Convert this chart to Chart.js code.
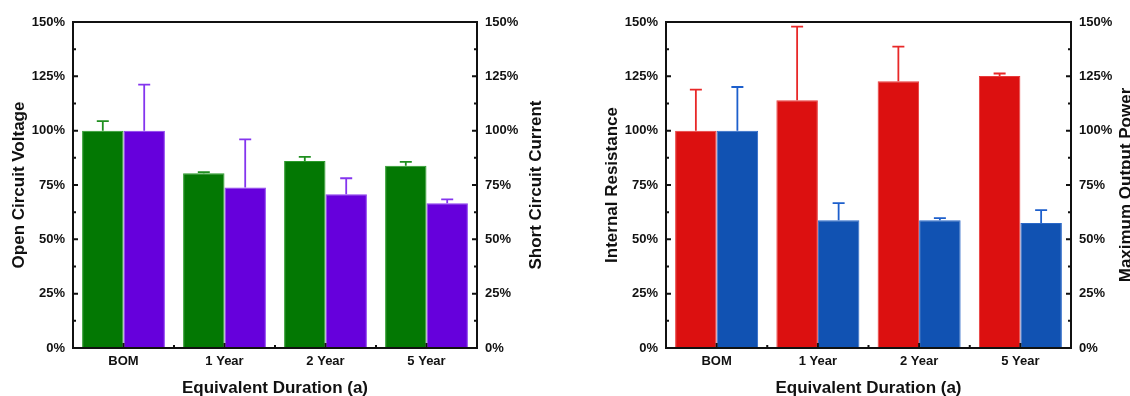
<!DOCTYPE html>
<html>
<head>
<meta charset="utf-8">
<script src="https://cdn.jsdelivr.net/npm/chart.js@4/dist/chart.umd.min.js"></script>
<style>
  body { margin: 0; background: #fff; }
  #wrap { position: relative; width: 1130px; height: 396px; overflow: hidden; }
  canvas { position: absolute; top: 0; }
</style>
</head>
<body>
<div id="wrap">
  <canvas id="leftChart" width="565" height="396" style="left:0"></canvas>
  <canvas id="rightChart" width="565" height="396" style="left:565px"></canvas>
</div>
<script>
// data (% relative to BOM)
const categories = ['BOM', '1 Year', '2 Year', '5 Year'];
const yTicks = [0, 25, 50, 75, 100, 125, 150];

const vocValues = [100, 80.4, 86.1, 83.8];
const vocErr = [4.4, 0.5, 1.8, 1.8];
const iscValues = [100, 73.8, 70.7, 66.6];
const iscErr = [21.2, 22.2, 7.4, 1.8];

const resValues = [100, 114.0, 122.7, 125.2];
const resErr = [18.9, 33.9, 16.0, 1.1];
const powValues = [100, 58.8, 58.8, 57.5];
const powErr = [20.1, 7.9, 1.0, 5.9];

const fontFamily = '"Liberation Sans", Arial, sans-serif';
const inkColor = '#111';

// draws the frame, inward ticks, error bars and rotated axis titles
const figurePlugin = {
    id: 'figurePlugin',
    afterDatasetsDraw: (chart) => {
        const ctx = chart.ctx;
        const area = chart.chartArea;
        const opts = chart.options.plugins.figurePlugin;

        // error bars (upper only)
        chart.data.datasets.forEach((ds, i) => {
            const meta = chart.getDatasetMeta(i);
            const scale = chart.scales[meta.yAxisID];
            ctx.save();
            ctx.strokeStyle = ds.errorColor;
            ctx.lineWidth = 1.8;
            meta.data.forEach((bar, j) => {
                const yTop = scale.getPixelForValue(ds.data[j] + ds.errors[j]);
                ctx.beginPath();
                ctx.moveTo(bar.x, bar.y);
                ctx.lineTo(bar.x, yTop);
                ctx.moveTo(bar.x - 6, yTop);
                ctx.lineTo(bar.x + 6, yTop);
                ctx.stroke();
            });
            ctx.restore();
        });

        ctx.save();
        ctx.strokeStyle = inkColor;
        ctx.lineWidth = 2;
        ctx.strokeRect(area.left, area.top, area.right - area.left, area.bottom - area.top);

        // y ticks on both sides, pointing inward
        const y = chart.scales.y;
        ctx.beginPath();
        for (let v = 0; v <= 150; v += 12.5) {
            const py = y.getPixelForValue(v);
            const len = (v % 25 === 0) ? 5 : 3;
            ctx.moveTo(area.left, py);
            ctx.lineTo(area.left + len, py);
            ctx.moveTo(area.right, py);
            ctx.lineTo(area.right - len, py);
        }
        // x ticks: centers and boundaries
        const x = chart.scales.x;
        const step = (area.right - area.left) / categories.length;
        categories.forEach((c, k) => {
            const px = x.getPixelForValue(k);
            ctx.moveTo(px, area.bottom);
            ctx.lineTo(px, area.bottom - 5);
            if (k > 0) {
                ctx.moveTo(area.left + k * step, area.bottom);
                ctx.lineTo(area.left + k * step, area.bottom - 3);
            }
        });
        ctx.stroke();

        // rotated axis titles, reading bottom to top
        ctx.fillStyle = inkColor;
        ctx.font = 'bold 17px ' + fontFamily;
        ctx.textAlign = 'center';
        ctx.textBaseline = 'middle';
        const midY = (area.top + area.bottom) / 2;
        [[opts.leftTitle, opts.leftTitleX], [opts.rightTitle, opts.rightTitleX]].forEach(t => {
            ctx.save();
            ctx.translate(t[1], midY);
            ctx.rotate(-Math.PI / 2);
            ctx.fillText(t[0], 0, 0);
            ctx.restore();
        });
        ctx.restore();
    }
};

function makeChart(canvasId, setA, setB, cfg) {
    const tickFont = { family: fontFamily, size: 13, weight: 'bold' };
    const yAxis = (pos, width) => ({
        position: pos,
        min: 0,
        max: 150,
        afterBuildTicks: (scale) => { scale.ticks = yTicks.map(v => ({ value: v })); },
        afterFit: (scale) => { scale.width = width; },
        grid: { display: false, drawTicks: false },
        border: { display: false },
        ticks: {
            color: inkColor,
            font: tickFont,
            padding: 8,
            callback: (v) => v + '%'
        }
    });
    return new Chart(document.getElementById(canvasId), {
        type: 'bar',
        data: {
            labels: categories,
            datasets: [
                {
                    label: setA.label,
                    data: setA.values,
                    errors: setA.errors,
                    yAxisID: 'y',
                    backgroundColor: setA.color,
                    borderColor: setA.edge,
                    borderWidth: 1,
                    errorColor: setA.errorColor
                },
                {
                    label: setB.label,
                    data: setB.values,
                    errors: setB.errors,
                    yAxisID: 'y1',
                    backgroundColor: setB.color,
                    borderColor: setB.edge,
                    borderWidth: 1,
                    errorColor: setB.errorColor
                }
            ]
        },
        options: {
            responsive: false,
            animation: false,
            layout: { padding: { top: 22, left: 0, right: 0, bottom: 0 } },
            categoryPercentage: 0.82,
            barPercentage: 1.0,
            scales: {
                x: {
                    afterFit: (scale) => { scale.height = 48; },
                    grid: { display: false, drawTicks: false },
                    border: { display: false },
                    ticks: { color: inkColor, font: tickFont, padding: 6 },
                    title: {
                        display: true,
                        text: 'Equivalent Duration (a)',
                        color: inkColor,
                        font: { family: fontFamily, size: 17, weight: 'bold' },
                        padding: { top: 4, bottom: -3 }
                    }
                },
                y: yAxis('left', cfg.leftWidth),
                y1: yAxis('right', cfg.rightWidth)
            },
            plugins: {
                legend: { display: false },
                tooltip: { enabled: false },
                figurePlugin: {
                    leftTitle: setA.label,
                    leftTitleX: cfg.leftTitleX,
                    rightTitle: setB.label,
                    rightTitleX: cfg.rightTitleX
                }
            }
        },
        plugins: [figurePlugin]
    });
}

makeChart('leftChart',
    { label: 'Open Circuit Voltage', values: vocValues, errors: vocErr,
      color: '#037803', edge: '#2a9a2a', errorColor: '#1f8f1f' },
    { label: 'Short Circuit Current', values: iscValues, errors: iscErr,
      color: '#6600dc', edge: '#8a3cf0', errorColor: '#8435ee' },
    { leftWidth: 73, rightWidth: 88, leftTitleX: 19, rightTitleX: 536 });

makeChart('rightChart',
    { label: 'Internal Resistance', values: resValues, errors: resErr,
      color: '#dc1010', edge: '#e83a3a', errorColor: '#e82828' },
    { label: 'Maximum Output Power', values: powValues, errors: powErr,
      color: '#1152b2', edge: '#2a68c8', errorColor: '#1d5fcc' },
    { leftWidth: 101, rightWidth: 59, leftTitleX: 47, rightTitleX: 561 });
</script>
</body>
</html>
